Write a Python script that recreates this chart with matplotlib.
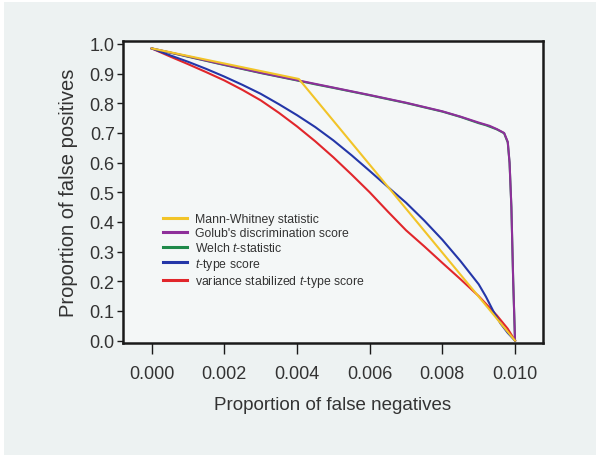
import matplotlib
matplotlib.use("Agg")
import matplotlib.pyplot as plt
from matplotlib.patches import Rectangle

# Proportion of false negatives (x) vs proportion of false positives (y)
golub_x = [0.0, 0.001, 0.002, 0.003, 0.004, 0.005, 0.006, 0.007, 0.008,
           0.0085, 0.009, 0.0093, 0.0095, 0.0097, 0.0098, 0.00985, 0.0099,
           0.00995, 0.01]
golub_y = [0.985, 0.958, 0.930, 0.903, 0.878, 0.853, 0.828, 0.802, 0.773,
           0.755, 0.735, 0.724, 0.713, 0.700, 0.670, 0.600, 0.450, 0.200, 0.0]

welch_x = [0.0, 0.001, 0.002, 0.003, 0.004, 0.0045, 0.005, 0.006, 0.007, 0.008,
           0.0085, 0.009, 0.0092, 0.0095, 0.0097, 0.0098, 0.00985, 0.0099,
           0.00995, 0.01]
welch_y = [0.985, 0.957, 0.929, 0.902, 0.877, 0.864, 0.852, 0.827, 0.801, 0.772,
           0.754, 0.733, 0.726, 0.712, 0.699, 0.668, 0.598, 0.448, 0.198, 0.0]

mw_x = [0.0, 0.00405, 0.01]
mw_y = [0.985, 0.882, 0.0]

ttype_x = [0.0, 0.0005, 0.001, 0.0015, 0.002, 0.0025, 0.003, 0.0035, 0.004,
           0.0045, 0.005, 0.0055, 0.006, 0.0065, 0.007, 0.0075, 0.008, 0.0085,
           0.009, 0.0092, 0.0094, 0.0096, 0.0098, 0.01]
ttype_y = [0.985, 0.962, 0.940, 0.916, 0.890, 0.862, 0.832, 0.797, 0.760,
           0.720, 0.675, 0.625, 0.572, 0.518, 0.465, 0.405, 0.340, 0.268,
           0.190, 0.148, 0.100, 0.058, 0.026, 0.0]

vst_x = [0.0, 0.0005, 0.001, 0.0015, 0.002, 0.0025, 0.003, 0.0035, 0.004,
         0.0045, 0.005, 0.0055, 0.006, 0.0065, 0.007, 0.0075, 0.008, 0.0085,
         0.009, 0.0095, 0.0098, 0.01]
vst_y = [0.985, 0.958, 0.932, 0.905, 0.877, 0.845, 0.810, 0.768, 0.722,
         0.672, 0.618, 0.560, 0.500, 0.435, 0.372, 0.318, 0.262, 0.207,
         0.150, 0.085, 0.040, 0.0]

x_ticks = [0.000, 0.002, 0.004, 0.006, 0.008, 0.010]
x_ticklabels = ["0.000", "0.002", "0.004", "0.006", "0.008", "0.010"]
y_ticks = [0.0, 0.1, 0.2, 0.3, 0.4, 0.5, 0.6, 0.7, 0.8, 0.9, 1.0]
y_ticklabels = ["0.0", "0.1", "0.2", "0.3", "0.4", "0.5", "0.6", "0.7",
                "0.8", "0.9", "1.0"]

plt.rcParams["font.family"] = ["Liberation Sans", "DejaVu Sans"]
plt.rcParams["mathtext.fontset"] = "custom"
plt.rcParams["mathtext.rm"] = "Liberation Sans"
plt.rcParams["mathtext.it"] = "Liberation Sans:italic"
text_col = "#333333"

fig = plt.figure(figsize=(5.96, 4.56), dpi=100, facecolor="white")
fig.patches.append(Rectangle((4 / 596, 0), 1, 1 - 3 / 456,
                             transform=fig.transFigure,
                             facecolor="#edf2f2", edgecolor="none", zorder=-10))

ax = fig.add_axes([123 / 596, 1 - 344 / 456, 420 / 596, 302 / 456])
ax.set_facecolor("#f4f7f7")

lw = 1.5
ax.plot(welch_x, welch_y, color="#1f8a4a", lw=lw, label="Welch $t$-statistic", zorder=2)
ax.plot(golub_x, golub_y, color="#8e2f9a", lw=lw,
        label="Golub's discrimination score", zorder=3)
ax.plot(mw_x, mw_y, color="#f2c428", lw=lw, label="Mann-Whitney statistic", zorder=4)
ax.plot(vst_x, vst_y, color="#e1262b", lw=lw,
        label="variance stabilized $t$-type score", zorder=3)
ax.plot(ttype_x, ttype_y, color="#2436a8", lw=lw, label="$t$-type score", zorder=3)

ax.set_xlim(-0.00079, 0.01077)
ax.set_ylim(-0.008, 1.010)

ax.set_xticks(x_ticks)
ax.set_xticklabels(x_ticklabels)
ax.set_yticks(y_ticks)
ax.set_yticklabels(y_ticklabels)

for s in ax.spines.values():
    s.set_linewidth(1.8)
    s.set_color("#1a1a1a")

ax.tick_params(axis="y", direction="out", length=4, width=1.0, pad=2,
               labelsize=13, colors="#1a1a1a", labelcolor=text_col)
ax.tick_params(axis="x", direction="out", length=8, width=1.0, pad=8,
               labelsize=13, colors="#1a1a1a", labelcolor=text_col)

ax.set_xlabel("Proportion of false negatives", fontsize=13.5, color=text_col,
              labelpad=10)
ax.set_ylabel("Proportion of false positives", fontsize=14.5, color=text_col,
              labelpad=8)

handles, labels = ax.get_legend_handles_labels()
order = ["Mann-Whitney statistic", "Golub's discrimination score",
         "Welch $t$-statistic", "$t$-type score",
         "variance stabilized $t$-type score"]
hmap = dict(zip(labels, handles))
leg = ax.legend([hmap[k] for k in order], order, loc="upper left",
                bbox_to_anchor=(0.095, 0.43), frameon=False, fontsize=8.8,
                handlelength=2.0, handletextpad=0.6, labelspacing=0.15,
                borderpad=0, borderaxespad=0, labelcolor=text_col)
for line in leg.get_lines():
    line.set_linewidth(2.2)

fig.savefig("out.png", dpi=100, facecolor=fig.get_facecolor())
